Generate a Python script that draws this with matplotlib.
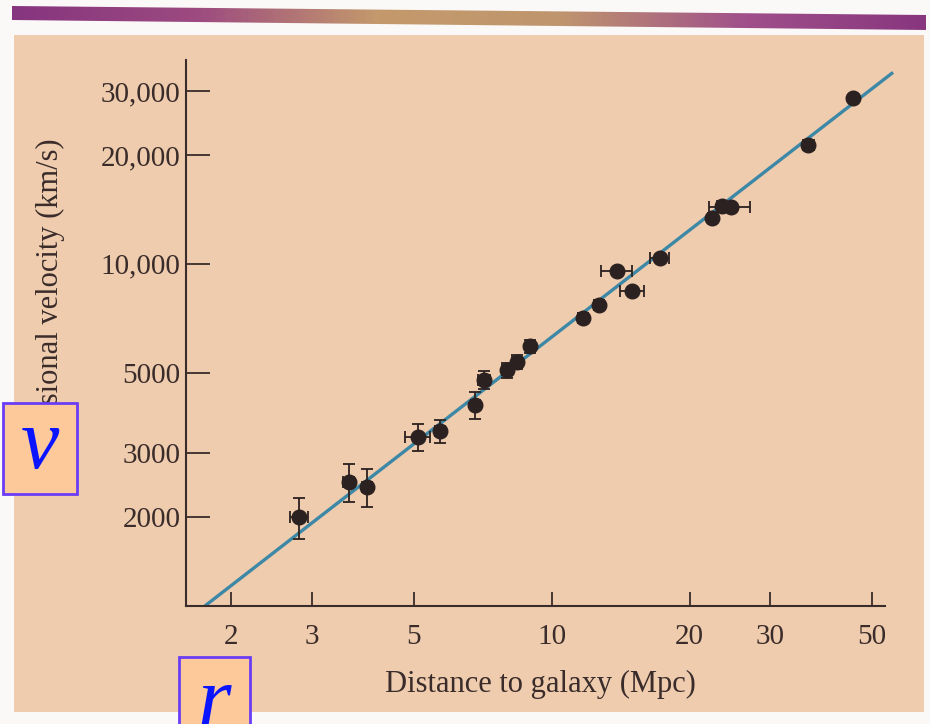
import numpy as np
import matplotlib
matplotlib.use('Agg')
from matplotlib import pyplot as plt
from matplotlib.patches import Rectangle, Polygon

# Hubble diagram data (distance in Mpc, velocity in km/s)
distance = [2.81, 3.61, 3.96, 5.11, 5.71, 6.81, 7.12, 7.98, 8.40, 8.97,
            11.7, 12.7, 13.9, 15.0, 17.2, 22.4, 23.5, 24.6, 36.3, 45.5]
velocity = [2000, 2500, 2420, 3330, 3455, 4080, 4780, 5090, 5360, 5930,
            7100, 7710, 9570, 8420, 10380, 13400, 14450, 14360, 21300, 28700]
dist_err = [0.13, 0.10, 0.10, 0.32, 0.15, 0.15, 0.22, 0.20, 0.20, 0.20,
            0.30, 0.30, 1.10, 0.90, 0.80, 0.50, 0.50, 2.50, 1.00, 0.0]
vel_err = [260, 300, 290, 280, 260, 340, 280, 250, 250, 250,
           220, 220, 180, 180, 200, 200, 200, 200, 0, 0]

# best-fit line end points
fit_r = [1.75, 55.6]
fit_v = [1135, 33800]

xticks = [2, 3, 5, 10, 20, 30, 50]
xtick_labels = ['2', '3', '5', '10', '20', '30', '50']
yticks = [2000, 3000, 5000, 10000, 20000, 30000]
ytick_labels = ['2000', '3000', '5000', '10,000', '20,000', '30,000']

peach = '#EFCCAE'
ink = '#3a2c2a'

fig = plt.figure(figsize=(9.3, 7.24), dpi=100)
fig.patch.set_facecolor('#fbf9f7')

# page background (scanned peach panel)
W, H = 930.0, 724.0
fig.patches.append(Rectangle((14 / W, 1 - 712 / H), (924 - 14) / W, (712 - 35) / H,
                             transform=fig.transFigure, facecolor=peach,
                             edgecolor='none', zorder=0))

# purple header bar with a golden middle
bar_ax = fig.add_axes([0, 0, 1, 1], zorder=1)
bar_ax.set_xlim(0, W)
bar_ax.set_ylim(H, 0)
bar_ax.axis('off')
grad = np.linspace(0, 1, 256)
cmap = matplotlib.colors.LinearSegmentedColormap.from_list(
    'bar', ['#86357f', '#9c4a80', '#c49a6c', '#bf956e', '#a0508a', '#88367f'])
img = bar_ax.imshow(grad[np.newaxis, :], cmap=cmap, aspect='auto',
                    extent=[12, 926, 32, 4])
bar_poly = Polygon([[12, 6], [926, 15], [926, 30], [12, 20]], closed=True,
                   transform=bar_ax.transData, facecolor='none', edgecolor='none')
bar_ax.add_patch(bar_poly)
img.set_clip_path(bar_poly)

# main axes
ax = fig.add_axes([186 / W, 1 - 606 / H, (885 - 186) / W, (606 - 60) / H], zorder=2)
ax.set_facecolor('none')
ax.set_xscale('log')
ax.set_yscale('log')
ax.set_xlim(1.592, 53.4)
ax.set_ylim(1135, 36570)

ax.plot(fit_r, fit_v, color='#3d88a6', lw=2.4, solid_capstyle='butt',
        clip_on=False, zorder=2)
ax.errorbar(distance, velocity, xerr=dist_err, yerr=vel_err, fmt='o',
            color='#2b2120', ecolor='#2b2120', ms=10.5, elinewidth=1.3,
            capsize=4, capthick=1.3, zorder=3)

for s in ['top', 'right']:
    ax.spines[s].set_visible(False)
for s in ['left', 'bottom']:
    ax.spines[s].set_color(ink)
    ax.spines[s].set_linewidth(1.5)

ax.minorticks_off()
ax.set_xticks(xticks)
ax.set_xticklabels(xtick_labels)
ax.set_yticks(yticks)
ax.set_yticklabels(ytick_labels)
ax.tick_params(axis='x', direction='in', length=10, width=1.3, color=ink,
               pad=13, labelsize=21, labelcolor=ink)
ax.tick_params(axis='y', direction='in', length=17, width=1.3, color=ink,
               pad=4, labelsize=21, labelcolor=ink)
for lab in ax.get_xticklabels() + ax.get_yticklabels():
    lab.set_family('Liberation Serif')

fig.text(540 / W, 1 - 684 / H, 'Distance to galaxy (Mpc)', ha='center', va='center',
         fontsize=22, family='Liberation Serif', color=ink, zorder=3)
fig.text(50 / W, 1 - 138 / H, 'Recessional velocity (km/s)', ha='center', va='top',
         rotation=90, fontsize=22, family='Liberation Serif', color=ink, zorder=3)

# variable boxes v and r
box_color = '#FDC99B'
fig.patches.append(Rectangle((3 / W, 1 - 494 / H), 74 / W, 91 / H, transform=fig.transFigure,
                             facecolor=box_color, edgecolor='#6a3cf5', lw=2, zorder=5))
fig.text(40 / W, 1 - 447 / H, 'v', ha='center', va='center', fontsize=62,
         family='Liberation Serif', style='italic', color='#0a14ff', zorder=6)
fig.patches.append(Rectangle((179 / W, 1 - 735 / H), 71 / W, 78 / H, transform=fig.transFigure,
                             facecolor=box_color, edgecolor='#6a3cf5', lw=2, zorder=5))
fig.text(214 / W, 1 - 705 / H, 'r', ha='center', va='center', fontsize=62,
         family='Liberation Serif', style='italic', color='#0a14ff', zorder=6)

plt.savefig('out.png', dpi=100, facecolor=fig.get_facecolor())
